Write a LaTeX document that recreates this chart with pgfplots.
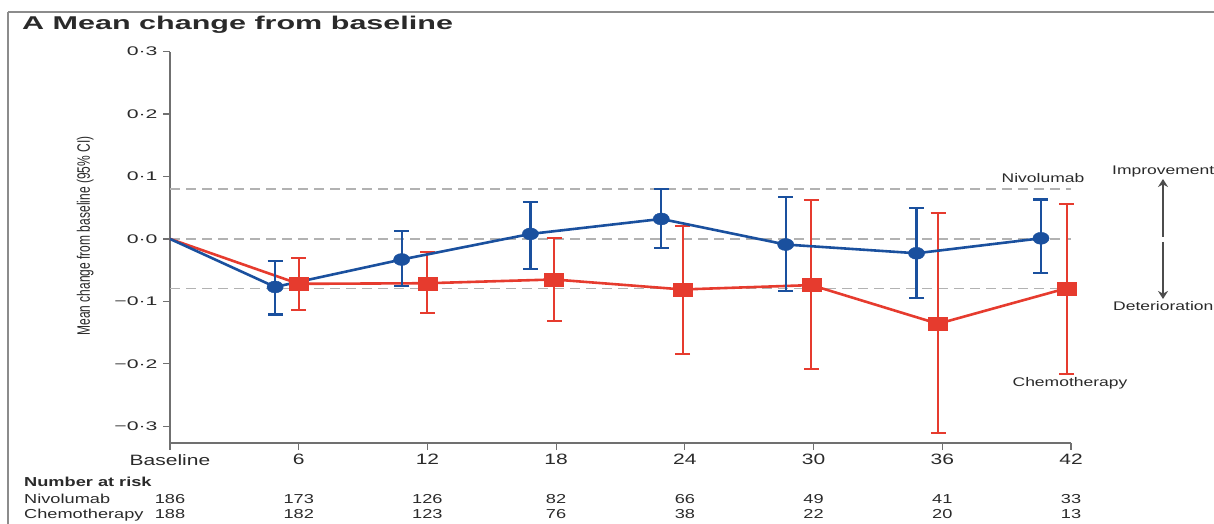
\documentclass[border=0pt]{standalone}
\usepackage{fontspec}
\usepackage{graphicx}
\usepackage{pgfplots}
\usepackage{pgfplotstable}
\usetikzlibrary{arrows.meta}
\pgfplotsset{compat=1.18}
\setmainfont{Liberation Sans}
\newfontfamily\titlefont[FakeStretch=1.65]{Liberation Sans}
\newfontfamily\yfont[FakeStretch=1.7]{Liberation Sans}
\newfontfamily\xfont[FakeStretch=1.4]{Liberation Sans}
\newfontfamily\tfont[FakeStretch=1.4]{Liberation Sans}
\definecolor{nivo}{HTML}{1A509E}
\definecolor{chemo}{HTML}{E63B2E}
\definecolor{axgray}{HTML}{707070}
\definecolor{txt}{HTML}{2A2A2A}

\pgfplotstableread{
x y ep em
4.9 -0.077 0.042 0.044
10.8 -0.033 0.046 0.043
16.8 0.008 0.051 0.056
22.9 0.032 0.048 0.047
28.7 -0.009 0.076 0.075
34.8 -0.023 0.072 0.072
40.6 0.001 0.062 0.055
}\nivo
\pgfplotstableread{
x y ep em
6.0 -0.072 0.041 0.042
12.0 -0.071 0.050 0.048
17.9 -0.065 0.067 0.067
23.9 -0.081 0.102 0.103
29.9 -0.074 0.137 0.135
35.8 -0.136 0.178 0.175
41.8 -0.079 0.135 0.137
}\chemo

\begin{document}
\begin{tikzpicture}[x=1bp,y=1bp]
\begin{axis}[
  at={(170bp,81bp)}, anchor=south west,
  scale only axis, width=901bp, height=391.3bp,
  xmin=0, xmax=42, ymin=-0.327, ymax=0.3,
  axis x line*=bottom, axis y line*=left,
  axis line style={axgray, line width=1.4bp},
  every tick/.style={axgray, line width=1.2bp},
  tick align=outside, major tick length=7bp,
  xtick={0,6,12,18,24,30,36,42},
  xticklabels={Baseline,6,12,18,24,30,36,42},
  ytick={-0.3,-0.2,-0.1,0,0.1,0.2,0.3},
  yticklabels={−0·3,−0·2,−0·1,0·0,0·1,0·2,0·3},
  x tick label style={font=\xfont\fontsize{15bp}{17bp}\selectfont, text=txt, yshift=-1bp},
  y tick label style={font=\yfont\fontsize{12.5bp}{14bp}\selectfont, text=txt, xshift=-2bp},
  ylabel={\scalebox{1}[1.5]{Mean change from baseline (95\% CI)}},
  ylabel style={font=\fontsize{12bp}{14bp}\selectfont, text=txt, at={(axis description cs:-0.094,0.529)}, anchor=center, rotate=0},
  clip=false,
]
\addplot[color=black!30, line width=1.2bp, dash pattern=on 10bp off 6bp] coordinates {(0,0.08) (42,0.08)};
\addplot[color=black!30, line width=1.2bp, dash pattern=on 10bp off 6bp] coordinates {(0,0) (42,0)};
\addplot[color=black!30, line width=1.2bp, dash pattern=on 10bp off 6bp] coordinates {(0,-0.08) (42,-0.08)};
% Chemotherapy
\addplot[chemo, line width=2.6bp, no marks] coordinates {(0,0) (6.0,-0.072) (12.0,-0.071) (17.9,-0.065) (23.9,-0.081) (29.9,-0.074) (35.8,-0.136) (41.8,-0.079)};
\addplot[chemo, only marks, mark=square*, mark size=6.5bp, mark options={xscale=1.45, chemo},
  error bars/.cd, y dir=both, y explicit,
  error bar style={chemo, line width=2bp},
  error mark options={chemo, line width=2bp, mark size=7.5bp, rotate=90}]
  table[x=x, y=y, y error plus=ep, y error minus=em] {\chemo};
% Nivolumab
\addplot[nivo, line width=2.6bp, no marks] coordinates {(0,0) (4.9,-0.077) (10.8,-0.033) (16.8,0.008) (22.9,0.032) (28.7,-0.009) (34.8,-0.023) (40.6,0.001)};
\addplot[nivo, only marks, mark=*, mark size=6bp, mark options={xscale=1.35, nivo},
  error bars/.cd, y dir=both, y explicit,
  error bar style={nivo, line width=2.2bp},
  error mark options={nivo, line width=2.2bp, mark size=7.5bp, rotate=90}]
  table[x=x, y=y, y error plus=ep, y error minus=em] {\nivo};
\end{axis}
% frame
\draw[black!45, line width=1.5bp] (8,512) -- (1240,512);
\draw[black!45, line width=1.5bp] (8,512) -- (8,-20);
% title
\node[anchor=base west, inner sep=0pt, text=txt] at (22,494) {\titlefont\fontsize{18.5bp}{20bp}\selectfont\bfseries A Mean change from baseline};
% annotations
\node[inner sep=0pt, text=txt] at (1043,346) {\tfont\fontsize{12.5bp}{14bp}\selectfont Nivolumab};
\node[inner sep=0pt, text=txt] at (1070,141) {\tfont\fontsize{12.5bp}{14bp}\selectfont Chemotherapy};
\node[anchor=west, inner sep=0pt, text=txt] at (1112,352) {\tfont\fontsize{12.5bp}{14bp}\selectfont Improvement};
\node[anchor=west, inner sep=0pt, text=txt] at (1113,218) {\tfont\fontsize{12.5bp}{14bp}\selectfont Deterioration};
\draw[-{Stealth[length=8bp,width=10bp]}, black!70, line width=1.4bp] (1163,287) -- (1163,345);
\draw[-{Stealth[length=8bp,width=10bp]}, black!70, line width=1.4bp] (1163,282) -- (1163,225);
% number at risk
\node[anchor=base west, inner sep=0pt, text=txt] at (24,37) {\tfont\fontsize{13bp}{15bp}\selectfont\bfseries Number at risk};
\node[anchor=base west, inner sep=0pt, text=txt] at (24,20) {\tfont\fontsize{13bp}{15bp}\selectfont Nivolumab};
\node[anchor=base west, inner sep=0pt, text=txt] at (24,5) {\tfont\fontsize{13bp}{15bp}\selectfont Chemotherapy};
\foreach \xx/\a/\b in {170/186/188, 298.7/173/182, 427.4/126/123, 556.1/82/76, 684.9/66/38, 813.6/49/22, 942.3/41/20, 1071/33/13}{
  \node[anchor=base, inner sep=0pt, text=txt] at (\xx,20) {\tfont\fontsize{13bp}{15bp}\selectfont \a};
  \node[anchor=base, inner sep=0pt, text=txt] at (\xx,5) {\tfont\fontsize{13bp}{15bp}\selectfont \b};
}
\pgfresetboundingbox
\useasboundingbox (0,0) rectangle (1214,524);
\end{tikzpicture}
\end{document}
